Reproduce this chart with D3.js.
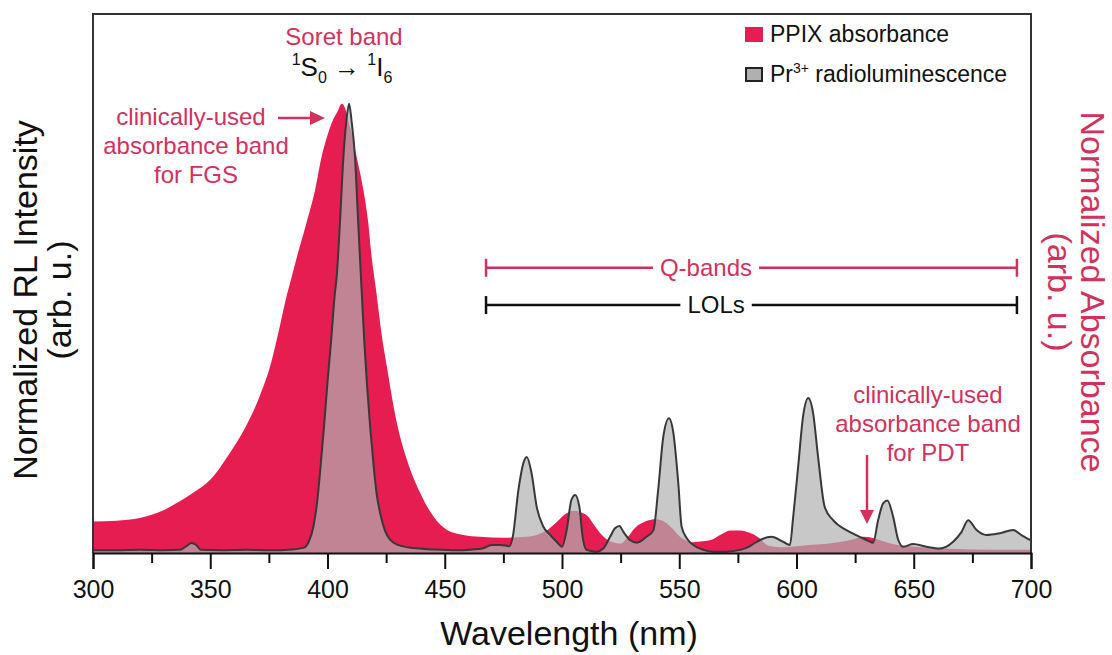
<!DOCTYPE html>
<html><head><meta charset="utf-8">
<script src="https://cdn.jsdelivr.net/npm/d3@7"></script>
<style>
html,body{margin:0;padding:0;background:#fff;}
svg text{font-family:"Liberation Sans", Arial, Helvetica, sans-serif;}
</style></head><body>
<svg id="chart" width="1112" height="655"></svg>
<script>
// PPIX absorbance (normalized)
const ppixNm  = [300,310,320,330,337,343,350,358,365,371,375.5,379,382,385,387,391,394.7,397.5,400,402,404.5,406,407.5,409,410.5,412.4,415.3,417.4,418.8,420.7,423,425.3,429.6,433.9,439.6,445.2,451,458,465,475,485,490,494,498,501,505,508,511,514,517,521,525,528,531,536,540,544.5,547,550,553,556,560,564,568,572,576,580,584,588,593,600,605,612,619,624,628.5,633,637,641,650,661,675,700];
const ppixAbs = [0.070,0.072,0.078,0.095,0.115,0.135,0.163,0.220,0.280,0.348,0.415,0.489,0.560,0.620,0.660,0.734,0.808,0.883,0.930,0.960,0.985,1.000,0.990,0.960,0.930,0.883,0.808,0.734,0.660,0.586,0.490,0.415,0.289,0.207,0.133,0.081,0.051,0.040,0.036,0.034,0.036,0.042,0.052,0.070,0.085,0.094,0.091,0.082,0.060,0.040,0.025,0.021,0.035,0.055,0.071,0.075,0.067,0.055,0.038,0.028,0.024,0.026,0.030,0.042,0.050,0.050,0.045,0.034,0.016,0.013,0.015,0.018,0.020,0.025,0.030,0.036,0.033,0.026,0.020,0.014,0.010,0.008,0.007];

// Pr3+ radioluminescence (normalized)
const rlNm  = [300,310,320,330,337,340,342,344,346,355,365,375,385,390,392,394,395.5,397,398.5,400,401.5,403,404,405.3,406.8,408,409.2,410.3,411.7,413.1,414.6,415.7,416.8,418.2,419.7,421,422.5,424.5,426.8,430,436.7,445,455,462,466,470,474,477.5,479,481.4,483.5,485,487,489.2,492,495,497.7,500,502,504,505.6,507.4,508.8,510.5,514.8,517.6,520.5,522.6,524.5,526.2,529,532,536,539,541,543.2,545.6,547.5,549.6,551,553.2,556,560.3,564.5,570,576,580,583,589.3,594.3,597.2,598.6,600.7,602.8,605,607.1,609.2,612,615.6,621.3,627,630.6,632.7,634.8,637,638.8,641.2,643.4,645.5,649.8,655.4,661.1,666.8,670.4,673.2,676.8,681,686.7,692.4,695.9,700];
const rlInt = [0.006,0.006,0.007,0.006,0.007,0.016,0.022,0.018,0.007,0.006,0.007,0.006,0.008,0.012,0.025,0.059,0.110,0.190,0.280,0.380,0.470,0.570,0.620,0.734,0.883,0.960,1.000,0.960,0.883,0.734,0.580,0.470,0.378,0.280,0.192,0.130,0.088,0.050,0.029,0.018,0.011,0.008,0.006,0.008,0.010,0.018,0.018,0.015,0.036,0.140,0.200,0.214,0.178,0.103,0.059,0.040,0.025,0.014,0.051,0.118,0.129,0.103,0.036,0.007,0.003,0.010,0.036,0.055,0.060,0.047,0.029,0.023,0.036,0.051,0.140,0.259,0.300,0.267,0.155,0.059,0.033,0.018,0.007,0.003,0.003,0.007,0.015,0.025,0.036,0.025,0.018,0.081,0.192,0.304,0.345,0.311,0.214,0.103,0.073,0.051,0.036,0.027,0.023,0.073,0.111,0.117,0.081,0.029,0.014,0.020,0.014,0.010,0.025,0.047,0.073,0.051,0.040,0.044,0.051,0.040,0.028];

const majorTicks = [300,350,400,450,500,550,600,650,700];
const minorTicks = [325,375,425,475,525,575,625,675];
const legendLabels = ["PPIX absorbance", "radioluminescence"];
const fgsLines = ["clinically-used", "absorbance band", "for FGS"];
const pdtLines = ["clinically-used", "absorbance band", "for PDT"];
const qBandsRange = [467.6, 694.0];
const lolsRange = [467.6, 694.0];

const RED = "#e61d50", RED_TEXT = "#d3315d", GREY_FILL = "#b0b0b0", LINE = "#383838";

const svg = d3.select("#chart");
const x = d3.scaleLinear().domain([300, 700]).range([93, 1031]);
const y = d3.scaleLinear().domain([0, 1.2]).range([553, 14]);

const ppix = ppixNm.map((d, i) => [d, ppixAbs[i]]);
const rl = rlNm.map((d, i) => [d, rlInt[i]]);

const area = d3.area().x(d => x(d[0])).y0(y(0)).y1(d => y(d[1])).curve(d3.curveMonotoneX);
const line = d3.line().x(d => x(d[0])).y(d => y(d[1])).curve(d3.curveMonotoneX);

svg.append("path").attr("d", area(ppix)).attr("fill", RED);
svg.append("path").attr("d", area(rl)).attr("fill", GREY_FILL).attr("fill-opacity", 0.7);
svg.append("path").attr("d", line(rl)).attr("fill", "none").attr("stroke", LINE).attr("stroke-width", 2).attr("stroke-linejoin", "round");

// frame
svg.append("path")
  .attr("d", `M${x(300)},${y(0)}V${y(1.2)}H${x(700)}V${y(0)}`)
  .attr("fill", "none").attr("stroke", "#333").attr("stroke-width", 2);

// x axis
const xAxis = svg.append("g").attr("transform", `translate(0,${y(0)})`)
  .call(d3.axisBottom(x).tickValues(majorTicks).tickSize(16).tickPadding(11).tickFormat(d3.format("d")));
xAxis.select(".domain").attr("stroke", "#111").attr("stroke-width", 2);
xAxis.selectAll(".tick line").attr("stroke", "#111").attr("stroke-width", 2);
xAxis.selectAll(".tick text").attr("font-size", 25).attr("fill", "#111")
  .style("font-family", "'Liberation Sans', Arial, sans-serif");
const xMinor = svg.append("g").attr("transform", `translate(0,${y(0)})`)
  .call(d3.axisBottom(x).tickValues(minorTicks).tickSize(10).tickFormat(""));
xMinor.select(".domain").remove();
xMinor.selectAll(".tick line").attr("stroke", "#111").attr("stroke-width", 2);

// axis titles
svg.append("text").attr("x", 569).attr("y", 645).attr("text-anchor", "middle")
  .attr("font-size", 34).attr("fill", "#111").text("Wavelength (nm)");
svg.append("text").attr("transform", "translate(37,300) rotate(-90)").attr("text-anchor", "middle")
  .attr("font-size", 34).attr("fill", "#111").text("Normalized RL Intensity");
svg.append("text").attr("transform", "translate(71,300) rotate(-90)").attr("text-anchor", "middle")
  .attr("font-size", 34).attr("fill", "#111").text("(arb. u.)");
svg.append("text").attr("transform", "translate(1081,292) rotate(90)").attr("text-anchor", "middle")
  .attr("font-size", 34).attr("fill", RED_TEXT).text("Normalized Absorbance");
svg.append("text").attr("transform", "translate(1048,292) rotate(90)").attr("text-anchor", "middle")
  .attr("font-size", 34).attr("fill", RED_TEXT).text("(arb. u.)");

// legend
svg.append("rect").attr("x", 745).attr("y", 27).attr("width", 18).attr("height", 15).attr("fill", RED);
svg.append("text").attr("x", 770).attr("y", 42).attr("font-size", 23).attr("fill", "#111").text(legendLabels[0]);
svg.append("rect").attr("x", 746).attr("y", 68).attr("width", 16).attr("height", 13)
  .attr("fill", GREY_FILL).attr("stroke", "#222").attr("stroke-width", 2);
const lg2 = svg.append("text").attr("x", 770).attr("y", 82).attr("font-size", 23).attr("fill", "#111");
lg2.append("tspan").text("Pr");
lg2.append("tspan").attr("font-size", 14).attr("dy", -9).text("3+");
lg2.append("tspan").attr("dy", 9).text(" " + legendLabels[1]);

// Soret band labels
svg.append("text").attr("x", 344).attr("y", 45).attr("text-anchor", "middle")
  .attr("font-size", 24).attr("fill", RED_TEXT).text("Soret band");
const tr = svg.append("text").attr("x", 342).attr("y", 76).attr("text-anchor", "middle")
  .attr("font-size", 26).attr("fill", "#111");
tr.append("tspan").attr("font-size", 16).attr("dy", -11).text("1");
tr.append("tspan").attr("dy", 11).text("S");
tr.append("tspan").attr("font-size", 16).attr("dy", 7).text("0");
tr.append("tspan").attr("dy", -7).text(" \u2192 ");
tr.append("tspan").attr("font-size", 16).attr("dy", -11).text("1");
tr.append("tspan").attr("dy", 11).text("I");
tr.append("tspan").attr("font-size", 16).attr("dy", 7).text("6");

// FGS annotation
fgsLines.forEach((t, i) => {
  svg.append("text").attr("x", i === 0 ? 191 : 196).attr("y", 125 + i * 29)
    .attr("text-anchor", "middle").attr("font-size", 24).attr("fill", RED_TEXT).text(t);
});
svg.append("line").attr("x1", 278).attr("x2", 312).attr("y1", 118).attr("y2", 118)
  .attr("stroke", RED_TEXT).attr("stroke-width", 2.5);
svg.append("path").attr("d", "M310,111L325,118L310,125Z").attr("fill", RED_TEXT);

// PDT annotation
pdtLines.forEach((t, i) => {
  svg.append("text").attr("x", 928).attr("y", 403 + i * 29)
    .attr("text-anchor", "middle").attr("font-size", 24).attr("fill", RED_TEXT).text(t);
});
svg.append("line").attr("x1", 867).attr("x2", 867).attr("y1", 455).attr("y2", 512)
  .attr("stroke", RED_TEXT).attr("stroke-width", 2.5);
svg.append("path").attr("d", "M860,510L867,524L874,510Z").attr("fill", RED_TEXT);

// brackets
function bracket(range, yv, label, labelX, color) {
  const yy = y(yv), x1 = x(range[0]), x2 = x(range[1]);
  const t = svg.append("text").attr("x", x(labelX)).attr("y", yy + 8).attr("text-anchor", "middle")
    .attr("font-size", 24).attr("fill", color).text(label);
  const bb = t.node().getBBox();
  const g = svg.append("g").attr("stroke", color).attr("stroke-width", 2.5);
  g.append("line").attr("x1", x1).attr("x2", bb.x - 7).attr("y1", yy).attr("y2", yy);
  g.append("line").attr("x1", bb.x + bb.width + 7).attr("x2", x2).attr("y1", yy).attr("y2", yy);
  g.append("line").attr("x1", x1).attr("x2", x1).attr("y1", yy - 9).attr("y2", yy + 9);
  g.append("line").attr("x1", x2).attr("x2", x2).attr("y1", yy - 9).attr("y2", yy + 9);
}
bracket(qBandsRange, 0.635, "Q-bands", 561.4, RED_TEXT);
bracket(lolsRange, 0.552, "LOLs", 565.7, "#111");
</script>
</body></html>
